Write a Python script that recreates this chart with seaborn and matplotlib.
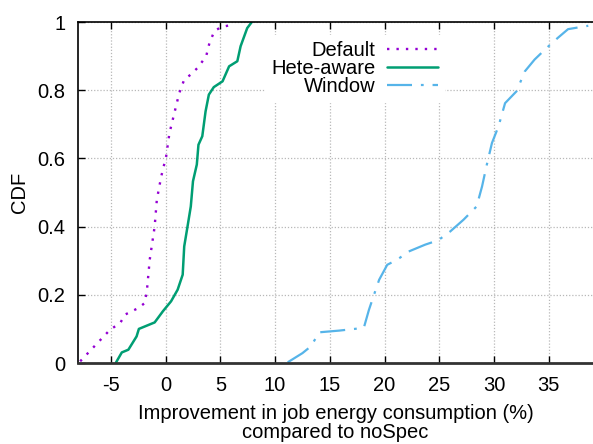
import numpy as np
import pandas as pd
import matplotlib
matplotlib.use("Agg")
import matplotlib.pyplot as plt
import seaborn as sns

# CDF curves
default_x = [-7.8, -5.06, -4.15, -3.7, -2.5, -1.9, -1.7, -1.45, -1.0, -0.8, -0.4, 0.05,
             0.35, 0.8, 1.25, 1.7, 2.3, 2.9, 3.7, 4.0, 4.45, 5.05, 5.8]
default_y = [0.005, 0.098, 0.117, 0.142, 0.161, 0.176, 0.215, 0.303, 0.40, 0.479, 0.547, 0.606,
             0.674, 0.733, 0.792, 0.831, 0.846, 0.865, 0.899, 0.938, 0.973, 0.985, 0.99]

hete_x = [-4.52, -4.0, -3.4, -2.65, -2.44, -1.0, -0.24, 0.5, 1.1, 1.56, 1.7, 2.0, 2.3,
          2.5, 2.85, 3.0, 3.35, 3.65, 3.95, 4.4, 5.2, 5.8, 6.55, 6.85, 7.45, 7.85]
hete_y = [0.002, 0.031, 0.039, 0.078, 0.10, 0.119, 0.152, 0.181, 0.215, 0.259, 0.342, 0.40, 0.459,
          0.533, 0.582, 0.640, 0.665, 0.738, 0.787, 0.809, 0.826, 0.87, 0.885, 0.929, 0.982, 0.999]

window_x = [11.15, 12.5, 13.27, 14.03, 15.85, 18.1, 18.57, 19.03, 19.5, 20.24, 21.15, 22.2,
            23.7, 24.9, 26.0, 27.2, 28.4, 28.9, 29.3, 29.8, 30.4, 31.0, 32.05, 32.8, 33.7,
            34.8, 35.8, 36.75, 38.6]
window_y = [0.002, 0.029, 0.049, 0.09, 0.095, 0.103, 0.156, 0.20, 0.244, 0.288, 0.303, 0.327,
            0.347, 0.36, 0.386, 0.42, 0.459, 0.518, 0.577, 0.645, 0.694, 0.762, 0.797, 0.855, 0.89,
            0.924, 0.953, 0.979, 0.989]

x_ticks = [-5, 0, 5, 10, 15, 20, 25, 30, 35]
y_ticks = [0, 0.2, 0.4, 0.6, 0.8, 1]
y_tick_labels = ["0", "0.2", "0.4", "0.6", "0.8", "1"]

sns.set_style("ticks")
plt.rcParams["font.family"] = ["Liberation Sans", "DejaVu Sans"]
plt.rcParams["font.size"] = 14.5
plt.rcParams["text.color"] = "black"
plt.rcParams["axes.labelcolor"] = "black"

fig = plt.figure(figsize=(5.93, 4.44), dpi=100)
ax = fig.add_axes([78 / 593, 1 - 363 / 444, 515 / 593, (363 - 22) / 444])

sns.lineplot(x=default_x, y=default_y, ax=ax, color="#9400d3", lw=1.7,
             linestyle=(0, (1, 3)), label="Default", sort=False, estimator=None)
sns.lineplot(x=hete_x, y=hete_y, ax=ax, color="#009e73", lw=1.8,
             label="Hete-aware", sort=False, estimator=None)
sns.lineplot(x=window_x, y=window_y, ax=ax, color="#56b4e9", lw=1.6,
             linestyle=(0, (11.25, 4, 1.25, 4)), label="Window", sort=False, estimator=None)

ax.set_xlim(-8.0, 39.03)
ax.set_ylim(0, 1)
ax.set_xticks(x_ticks)
ax.set_xticklabels([str(t) for t in x_ticks])
ax.set_yticks(y_ticks)
ax.set_yticklabels(y_tick_labels)

ax.grid(True, color="#b8b8b8", linestyle=(0, (1, 1.5)), lw=0.9)
ax.tick_params(direction="in", length=5, width=1, top=True, right=False,
               pad=9, labelsize=14.5, colors="black")
for s in ["top", "left", "bottom"]:
    ax.spines[s].set_color("black")
    ax.spines[s].set_linewidth(1.2)
ax.spines["bottom"].set_linewidth(2)
ax.spines["bottom"].set_color("#333333")
ax.spines["right"].set_visible(False)

ax.set_xlabel("Improvement in job energy consumption (%)\ncompared to noSpec",
              fontsize=14.5, linespacing=1.0, labelpad=7)
ax.set_ylabel("CDF", fontsize=14.5, labelpad=6)

leg = ax.legend(loc="upper right", bbox_to_anchor=(0.710, 0.962), markerfirst=False,
                frameon=True, fancybox=False, framealpha=1, edgecolor="white",
                facecolor="white", fontsize=14.5, handlelength=2.5, handletextpad=0.6,
                labelspacing=-0.05, borderpad=0.3, borderaxespad=0)

fig.savefig("out.png", dpi=100)
